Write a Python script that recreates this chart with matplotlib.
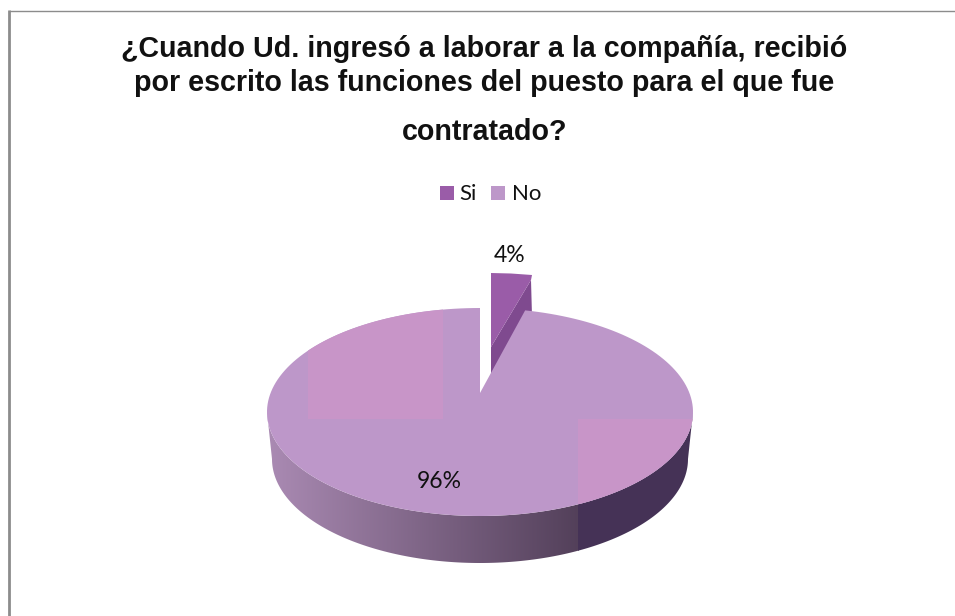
import numpy as np
import matplotlib
matplotlib.use('Agg')
import matplotlib.pyplot as plt
from matplotlib.patches import Polygon, Rectangle

title_lines = ['¿Cuando Ud. ingresó a laborar a la compañía, recibió',
               'por escrito las funciones del puesto para el que fue',
               'contratado?']
labels = ['Si', 'No']
values = [4, 96]
colors = ['#9a5ca8', '#bd97c9']

# pie geometry, in pixels
cx, cy = 480, 412
rx, ry = 213, 104
depth = 47

fig = plt.figure(figsize=(9.55, 6.16), dpi=100)
ax = fig.add_axes([0, 0, 1, 1])
ax.set_xlim(0, 955)
ax.set_ylim(616, 0)
ax.axis('off')


def rim(a, b, shift=0, shrink=0, n=200):
    # a, b are clockwise angles from 12 o'clock, in degrees
    t = np.radians(np.linspace(a, b, n))
    return np.column_stack([cx + (rx - shrink) * np.sin(t), cy + shift - (ry) * np.cos(t)])


# frame, only left and top are visible
ax.plot([9.2, 9.2], [10, 616], color='#8c8c8c', lw=2.0, solid_capstyle='butt')
ax.plot([9, 955], [10.5, 10.5], color='#8c8c8c', lw=1.0, solid_capstyle='butt')

# title
for line, y in zip(title_lines, [57, 91, 140]):
    ax.text(484.5, y, line, ha='center', va='baseline', fontsize=20.6,
            family='Liberation Sans', fontweight='bold', color='#111111')

# legend
ax.add_patch(Rectangle((440, 186), 14, 14, color=colors[0], lw=0))
ax.text(459.5, 200.5, labels[0], fontsize=16, family='Lato', color='#111111')
ax.add_patch(Rectangle((491, 186), 14, 14, color=colors[1], lw=0))
ax.text(511.5, 200.5, labels[1], fontsize=16, family='Lato', color='#111111')

# exploded slice, side first then the top
ax.add_patch(Polygon([(491, 347), (531, 280), (532, 316), (520, 330), (491, 385)],
                     color='#7f4a8f', lw=0))
ax.add_patch(Polygon([(491, 273), (511, 273.5), (532, 275), (531, 280), (491, 347)],
                     color=colors[0], lw=0))

# side wall, gradient on the left part and flat dark on the right
wall = np.vstack([rim(90, 270), rim(90, 270, shift=depth, shrink=5)[::-1]])
wall_patch = Polygon(wall, closed=True, color='none', lw=0)
ax.add_patch(wall_patch)
grad = np.linspace(0, 1, 256).reshape(1, -1, 1)
c0 = np.array(matplotlib.colors.to_rgb('#ab8bb4')).reshape(1, 1, 3)
c1 = np.array(matplotlib.colors.to_rgb('#53405a')).reshape(1, 1, 3)
im = ax.imshow(c0 + (c1 - c0) * grad, extent=(265, 578, 570, 400), aspect='auto', zorder=2)
im.set_clip_path(wall_patch)
dark = ax.add_patch(Rectangle((578, 400), 125, 170, color='#453256', lw=0, zorder=2))
dark.set_clip_path(wall_patch)

# top face: the gap is taken out according to the Si share
gap = 360 * values[0] / sum(values) * 0.85
apex = (480, 393)
top = np.vstack([[apex], rim(gap, 360)])
top_patch = Polygon(top, closed=True, color=colors[1], lw=0, zorder=3)
ax.add_patch(top_patch)

# lighter pink panels on the top face
for x0, x1, y0, y1 in [(308, 443, 300, 419), (578, 700, 419, 530)]:
    r = ax.add_patch(Rectangle((x0, y0), x1 - x0, y1 - y0, color='#c895c8', lw=0, zorder=3.5))
    r.set_clip_path(top_patch)

# data labels
ax.text(510, 262, '%d%%' % values[0], ha='center', va='baseline', fontsize=16.5,
        family='Lato', color='#111111', zorder=5)
ax.text(439, 488, '%d%%' % values[1], ha='center', va='baseline', fontsize=16.5,
        family='Lato', color='#111111', zorder=5)

fig.savefig('out.png', dpi=100)
